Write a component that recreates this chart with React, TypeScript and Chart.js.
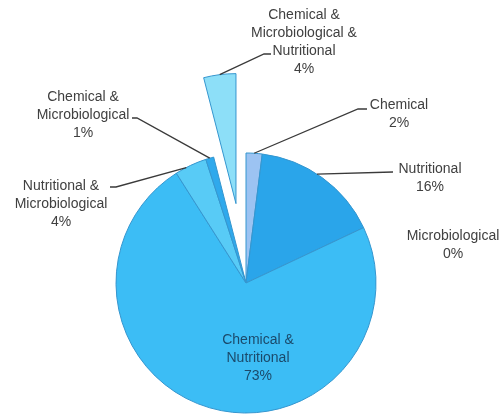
import React, { useEffect, useRef } from "react";
import { Chart, registerables } from "chart.js";

Chart.register(...registerables);

// ---- data ----
const categories = [
  "Chemical",
  "Nutritional",
  "Microbiological",
  "Chemical & Nutritional",
  "Nutritional & Microbiological",
  "Chemical & Microbiological",
  "Chemical & Microbiological & Nutritional",
];
const values = [2, 16, 0, 73, 4, 1, 4];
const nameLines = [
  ["Chemical"],
  ["Nutritional"],
  ["Microbiological"],
  ["Chemical &", "Nutritional"],
  ["Nutritional &", "Microbiological"],
  ["Chemical &", "Microbiological"],
  ["Chemical &", "Microbiological &", "Nutritional"],
];

// ---- styles / layout ----
const sliceColors = ["#9cc3f2", "#2aa5ea", "#2aa5ea", "#3cbdf5", "#58cbf6", "#2fa9ec", "#8ddff8"];
const explodeIndex = 6;
const explodeDistance = 80;
const pieRadius = 130;
const lineHeight = 18;

type LabelLayout = {
  x: number;
  y: number;
  color: string;
  at?: number;
  leader?: number[][];
};
const labelLayout: LabelLayout[] = [
  { x: 399, y: 105, color: "#404040", leader: [[358, 109], [367, 109]] },
  { x: 430, y: 169, color: "#404040", at: 0.45, leader: [[393, 172]] },
  { x: 453, y: 236, color: "#404040" },
  { x: 258, y: 340, color: "#1b4a6b" },
  { x: 61, y: 186, color: "#404040", at: 0.35, leader: [[116, 187], [110, 187]] },
  { x: 83, y: 97, color: "#404040", leader: [[137, 118], [132, 118]] },
  { x: 304, y: 15, color: "#404040", leader: [[264, 54], [271, 54]] },
];

const explodePlugin = {
  id: "explode",
  afterDatasetsUpdate(chart: any) {
    const meta = chart.getDatasetMeta(0);
    const el = meta.data[explodeIndex];
    if (!el) return;
    const mid = (el.startAngle + el.endAngle) / 2;
    el.x += Math.cos(mid) * explodeDistance;
    el.y += Math.sin(mid) * explodeDistance;
  },
};

const labelPlugin = {
  id: "sliceLabels",
  afterDatasetsDraw(chart: any) {
    const ctx = chart.ctx;
    const meta = chart.getDatasetMeta(0);
    ctx.save();
    ctx.font = '14px "Liberation Sans", Arial, sans-serif';
    ctx.textAlign = "center";
    ctx.textBaseline = "middle";
    labelLayout.forEach((lay, i) => {
      const el = meta.data[i];
      if (lay.leader && el) {
        const f = lay.at ?? 0.5;
        const ang = el.startAngle + (el.endAngle - el.startAngle) * f;
        const ex = el.x + Math.cos(ang) * el.outerRadius;
        const ey = el.y + Math.sin(ang) * el.outerRadius;
        ctx.beginPath();
        ctx.strokeStyle = "#3a3a3a";
        ctx.lineWidth = 1.3;
        ctx.moveTo(ex, ey);
        lay.leader.forEach((p) => ctx.lineTo(p[0], p[1]));
        ctx.stroke();
      }
      const lines = [...nameLines[i], `${values[i]}%`];
      ctx.fillStyle = lay.color;
      lines.forEach((t, k) => {
        ctx.fillText(t, lay.x, lay.y + k * lineHeight);
      });
    });
    ctx.restore();
  },
};

export default function App() {
  const canvasRef = useRef<HTMLCanvasElement | null>(null);

  useEffect(() => {
    const canvas = canvasRef.current;
    if (!canvas) return;
    const chart = new Chart(canvas, {
      type: "pie",
      data: {
        labels: categories,
        datasets: [
          {
            data: values,
            backgroundColor: sliceColors,
            borderColor: "#3596cf",
            borderWidth: 1,
            radius: pieRadius,
            hoverOffset: 0,
          } as any,
        ],
      },
      options: {
        responsive: false,
        animation: false,
        events: [],
        rotation: 0,
        layout: { padding: { left: 0, right: 10, top: 148, bottom: 0 } },
        plugins: {
          legend: { display: false },
          tooltip: { enabled: false },
        },
      } as any,
      plugins: [explodePlugin, labelPlugin],
    });
    return () => chart.destroy();
  }, []);

  return (
    <div
      style={{
        position: "fixed",
        left: 0,
        top: 0,
        width: 502,
        height: 418,
        background: "#ffffff",
      }}
    >
      <canvas ref={canvasRef} width={502} height={418} style={{ display: "block" }} />
    </div>
  );
}
